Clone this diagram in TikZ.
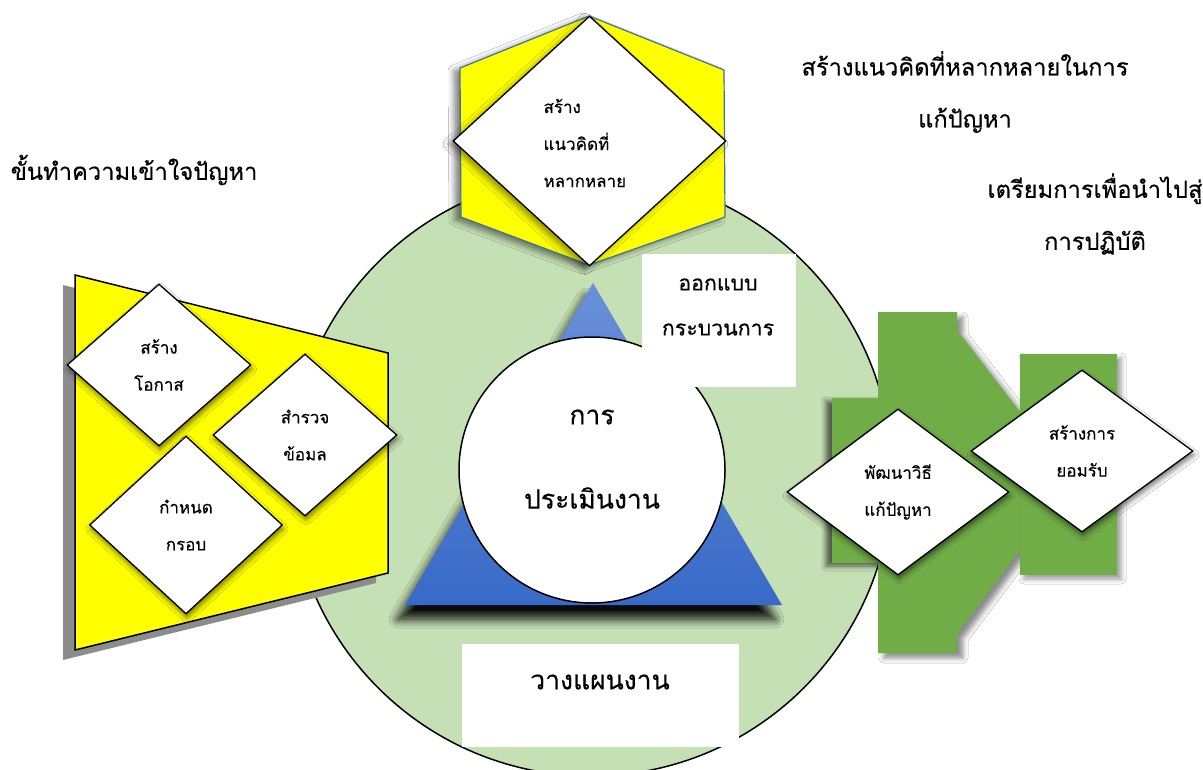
\documentclass[tikz,border=0pt]{standalone}
\usepackage{fontspec}
\newfontfamily\thai[Script=Thai,FakeBold=0.4]{Loma}
\usetikzlibrary{shapes.geometric,shadows.blur}
\definecolor{cYel}{HTML}{FFFF00}
\definecolor{cLG}{HTML}{C5E0B4}
\definecolor{cGr}{HTML}{70AD47}
\definecolor{cBlT}{HTML}{6A90D8}
\definecolor{cBlB}{HTML}{386AC8}
\definecolor{cHexB}{HTML}{41719C}
\definecolor{cTrSh}{HTML}{8C8C8C}
\begin{document}
\begin{tikzpicture}[x=1pt,y=-1pt,font=\thai,
  dfont/.style={font=\thai\fontsize{17}{37}\selectfont},
  dia/.style={diamond, draw=black, line width=1.3pt, fill=white, inner sep=0pt, align=center, dfont},
  dsh/.style={blur shadow={shadow xshift=1pt, shadow yshift=-4pt, shadow blur radius=5pt, shadow opacity=55}},
  boxfont/.style={font=\thai\fontsize{21.3}{45}\selectfont, align=center},
  bigfont/.style={font=\thai\fontsize{26.5}{30}\selectfont},
  title/.style={font=\thai\fontsize{23.7}{52}\selectfont, align=center},
  whitebox/.style={fill=white, inner sep=0pt, anchor=north west},
]
\useasboundingbox (0,0) rectangle (1203,769);
\fill[white] (0,0) rectangle (1203,769);

% large light-green circle
\node[circle, draw=black, line width=1.5pt, fill=cLG, minimum size=602pt, inner sep=0pt] (big) at (591,475) {};

% top hexagon with diamond
\draw[cHexB, line width=1.2pt, fill=cYel, blur shadow={shadow xshift=-6pt, shadow yshift=-3pt, shadow blur radius=6pt, shadow opacity=50}]
  (589,16) -- (724,70) -- (725,217) -- (589,265) -- (461,217) -- (460,68) -- cycle;
\node[dia, minimum width=273pt, minimum height=250pt, blur shadow={shadow xshift=-4pt, shadow yshift=-3pt, shadow blur radius=6pt, shadow opacity=45}] (dHex) at (589.5,141) {};
\node[dfont, anchor=west, align=left] (tHex) at (540,143) {สร้าง\\แนวคิดที่\\หลากหลาย};

% left trapezoid
\fill[cTrSh] (63,285) -- (376,363) -- (376,583) -- (63,660) -- cycle;
\draw[black, line width=1.5pt, fill=cYel] (75,275) -- (388,353) -- (388,573) -- (75,650) -- cycle;
\node[dia, dsh, minimum width=184pt, minimum height=162pt] (d1) at (159,365) {สร้าง\\โอกาส};
\node[dia, dsh, minimum width=184pt, minimum height=162pt] (d2) at (305,435) {สำรวจ\\ข้อมล};
\node[dia, dsh, minimum width=193pt, minimum height=178pt] (d3) at (186,525) {กำหนด\\กรอบ};

% green shapes
\fill[cGr, blur shadow={shadow xshift=-6pt, shadow yshift=-3pt, shadow blur radius=5pt, shadow opacity=60}] (832,398) rectangle (900,563);
\fill[cGr, blur shadow={shadow xshift=6pt, shadow yshift=-5pt, shadow blur radius=5pt, shadow opacity=45}]
  (878,312) -- (957,312) -- (957,330) -- (1020,412) -- (1020,550) -- (957,634) -- (957,653) -- (878,653) -- cycle;
\fill[cGr, blur shadow={shadow xshift=4pt, shadow yshift=-4pt, shadow blur radius=5pt, shadow opacity=40}] (1020,354) rectangle (1117,575);
\node[dia, dsh, minimum width=222pt, minimum height=166pt] (d4) at (898,492) {พัฒนาวิธี\\แก้ปัญหา};
\node[dia, dsh, minimum width=222pt, minimum height=162pt] (d5) at (1082,451) {สร้างการ\\ยอมรับ};

% blue triangle
\path[top color=cBlT, bottom color=cBlB, blur shadow={shadow xshift=-7pt, shadow yshift=-14pt, shadow blur radius=9pt, shadow blur steps=8, shadow opacity=95}]
  (593,283) -- (782,605) -- (405,605) -- cycle;

% white circle
\node[circle, draw=black, line width=1.5pt, fill=white, minimum size=266pt, inner sep=0pt] (ev) at (592,470) {};
\node[bigfont] (evT1) at (592,417) {การ};
\node[bigfont] (evT2) at (592,498) {ประเมินงาน};

% white boxes
\node[whitebox, minimum width=154pt, minimum height=133pt] (rDes) at (642,254) {};
\node[boxfont] (tDes) at (718,307) {ออกแบบ\\กระบวนการ};
\node[whitebox, minimum width=277pt, minimum height=103pt] (rPlan) at (462,644) {};
\node[bigfont] (tPlan) at (600,682) {วางแผนงาน};

% titles
\node[title] (tiL) at (134,170) {ขั้นทำความเข้าใจปัญหา};
\node[title] (tiT) at (965,92) {สร้างแนวคิดที่หลากหลายในการ\\แก้ปัญหา};
\node[title] (tiR) at (1095,214) {เตรียมการเพื่อนำไปสู่\\การปฏิบัติ};
\end{tikzpicture}
\end{document}
